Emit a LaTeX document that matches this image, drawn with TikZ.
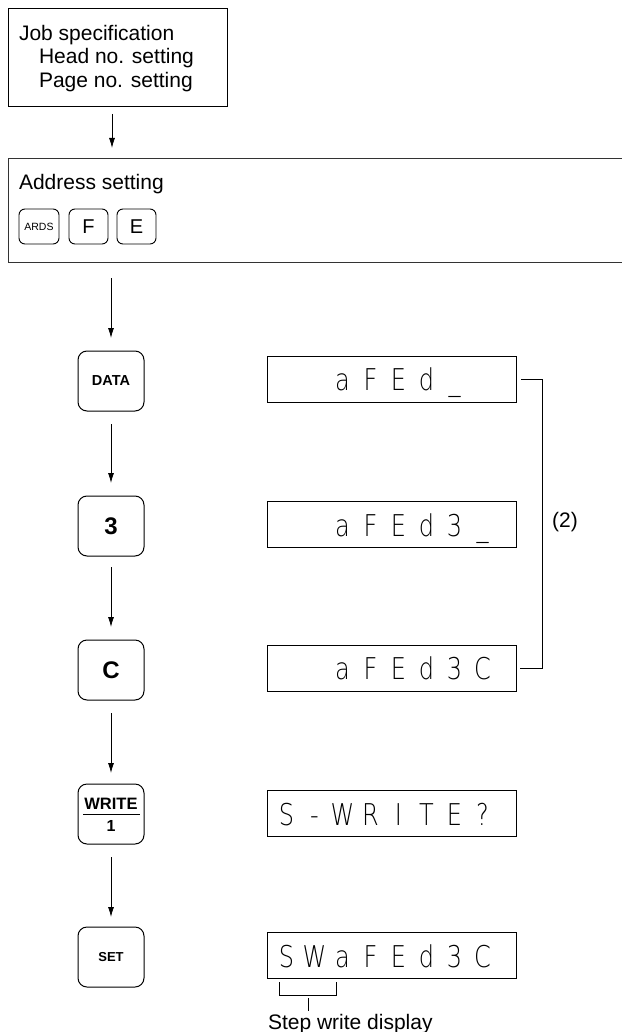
\documentclass[tikz,border=0pt]{standalone}
\usepackage{fontspec}
\setmainfont{Liberation Sans}
\IfFontExistsTF{DejaVu Sans ExtraLight}
  {\newfontfamily\dotfont[FakeStretch=0.8]{DejaVu Sans ExtraLight}}
  {\newfontfamily\dotfont{DejaVu Sans Mono}}
\usetikzlibrary{arrows.meta}
\begin{document}
\begin{tikzpicture}[x=1pt,y=-1pt,
  every node/.style={inner sep=0pt, outer sep=0pt},
  box/.style={draw, line width=1pt},
  keybox/.style={draw, line width=1pt, rounded corners=9pt, minimum width=66pt, minimum height=60pt},
  smallkey/.style={draw, line width=0.9pt, rounded corners=6pt, minimum height=35pt},
  disp/.style={draw, line width=1pt, minimum width=249pt, minimum height=46pt},
  arr/.style={line width=0.8pt, -{Latex[length=10pt,width=6pt]}},
  lbl/.style={font=\fontsize{21}{23}\selectfont, anchor=base west},
  dch/.style={font=\dotfont\fontsize{30}{30}\selectfont, anchor=base, text=black},
  thin/.style={line width=0.9pt}
]
\useasboundingbox (0,0) rectangle (621,1032);

% job specification box
\node[box, anchor=north west, minimum width=219pt, minimum height=98pt] (job) at (8,9) {};
\node[lbl] (t1) at (19,40.5) {Job specification};
\node[lbl] (t2) at (39,64) {Head no. setting};
\node[lbl] (t3) at (39,87.5) {Page no. setting};

% address setting box (runs off the right edge)
\node[box, draw=black!80, anchor=north west, minimum width=640pt, minimum height=103pt] (addr) at (8,159) {};
\node[lbl] (addrt) at (19,189.5) {Address setting};
\node[smallkey, minimum width=40pt, font=\fontsize{10.5}{12}\selectfont] (kards) at (39,226.5) {ARDS};
\node[smallkey, minimum width=39pt, font=\fontsize{20}{22}\selectfont] (kf) at (88.5,226.5) {F};
\node[smallkey, minimum width=39pt, font=\fontsize{20}{22}\selectfont] (ke) at (136.5,226.5) {E};

\coordinate (ax) at (112,0);
\coordinate (mx) at (111,0);
\draw[arr, shorten <=7pt, shorten >=11pt] (job.south -| ax) -- (addr.north -| ax);

% keys
\node[keybox, font=\bfseries\fontsize{14.5}{16}\selectfont] (kdata) at (111,381) {DATA};
\node[keybox, font=\bfseries\fontsize{24}{26}\selectfont] (k3) at (111,526) {3};
\node[keybox, font=\bfseries\fontsize{24}{26}\selectfont] (kc) at (111,670) {C};
\node[keybox] (kwrite) at (111,814) {};
\draw[thin] (83,814) -- (140,814);
\node[font=\bfseries\fontsize{16.5}{18}\selectfont] (kwt) at (111,804) {WRITE};
\node[font=\bfseries\fontsize{16}{18}\selectfont] (kw1) at (111,826) {1};
\node[keybox, font=\bfseries\fontsize{13}{15}\selectfont] (kset) at (111,957) {SET};

\draw[arr, shorten <=16pt, shorten >=13pt] (addr.south -| mx) -- (kdata.north);
\draw[arr, shorten <=13pt, shorten >=13pt] (kdata) -- (k3);
\draw[arr, shorten <=11pt, shorten >=13pt] (k3) -- (kc);
\draw[arr, shorten <=13pt, shorten >=11pt] (kc) -- (kwrite);
\draw[arr, shorten <=13pt, shorten >=10pt] (kwrite) -- (kset);

% displays
\node[disp] (d1) at (391.5,379) {};
\node[disp] (d2) at (391.5,524.5) {};
\node[disp] (d3) at (391.5,668) {};
\node[disp] (d4) at (391.5,813.5) {};
\node[disp] (d5) at (391.5,955.5) {};

\foreach \ch [count=\i from 2] in {a,F,E,d,\_}
  \node[dch] (d1c\i) at (286.5+28*\i, 390.5) {\ch};
\foreach \ch [count=\i from 2] in {a,F,E,d,3,\_}
  \node[dch] (d2c\i) at (286.5+28*\i, 536) {\ch};
\foreach \ch [count=\i from 2] in {a,F,E,d,3,C}
  \node[dch] (d3c\i) at (286.5+28*\i, 679.5) {\ch};
\foreach \ch [count=\i from 0] in {S,-,W,R,I,T,E,?}
  \node[dch] (d4c\i) at (286.5+28*\i, 825) {\ch};
\foreach \ch [count=\i from 0] in {S,W,a,F,E,d,3,C}
  \node[dch] (d5c\i) at (286.5+28*\i, 967) {\ch};

% bracket (2)
\coordinate (brb) at (542,668);
\draw[thin, shorten <=5pt, shorten >=4pt] (d1.east) -| (brb) -- (d3.east);
\node[font=\fontsize{21}{23}\selectfont] (two) at (565,522) {(2)};

% step write display bracket
\draw[line width=0.8pt] (279,982) -- (279,995) -- (336,995) -- (336,982);
\draw[line width=0.8pt] (308,998) -- (308,1011);
\node[lbl] (swd) at (268,1029.5) {Step write display};
\end{tikzpicture}
\end{document}
